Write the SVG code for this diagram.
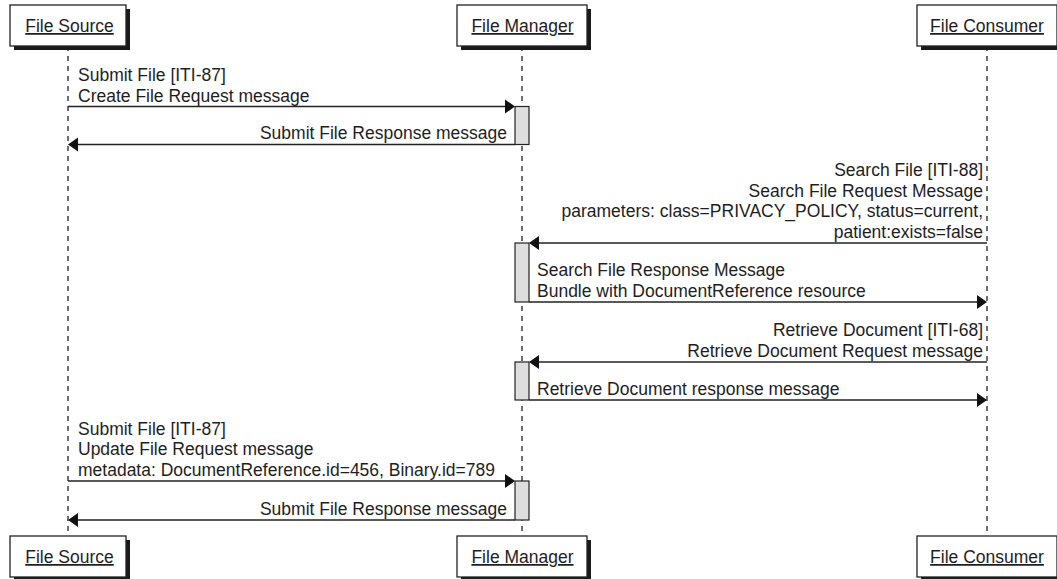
<svg xmlns="http://www.w3.org/2000/svg" width="1057" height="579" viewBox="0 0 1057 579">
<defs>
<style>
text{font-family:"Liberation Sans",Arial,sans-serif;font-size:17.5px;fill:#1e1e1e}
.box{fill:#fff;stroke:#222;stroke-width:1.3}
.sh{fill:#1a1a1a}
.life{stroke:#222;stroke-width:1.3;stroke-dasharray:5,5;fill:none}
.act{fill:#dedede;stroke:#222;stroke-width:1.2}
.msg{stroke:#222;stroke-width:1.3;fill:none}
.ah{fill:#111}
.u{text-decoration:underline}
.e{text-anchor:end}
.m{text-anchor:middle}
</style>
</defs>
<rect width="1057" height="579" fill="#fff"/>
<g id="lifelines">
<line class="life" x1="68" y1="46" x2="68" y2="536"/>
<line class="life" x1="522" y1="46" x2="522" y2="536"/>
<line class="life" x1="987" y1="46" x2="987" y2="536"/>
</g>
<g id="file-source-top">
<rect class="sh" x="14" y="9" width="116" height="41"/>
<rect class="box" x="10" y="5" width="116" height="41"/>
<text class="m u" x="69.5" y="32">File Source</text>
</g>
<g id="file-manager-top">
<rect class="sh" x="461" y="9" width="130" height="41"/>
<rect class="box" x="457" y="5" width="130" height="41"/>
<text class="m u" x="522.5" y="32">File Manager</text>
</g>
<g id="file-consumer-top">
<rect class="sh" x="921" y="9" width="140" height="41"/>
<rect class="box" x="917" y="5" width="140" height="41"/>
<text class="m u" x="987" y="32">File Consumer</text>
</g>
<g id="file-source-bottom">
<rect class="sh" x="14" y="540" width="116" height="41"/>
<rect class="box" x="10" y="536" width="116" height="41"/>
<text class="m u" x="69.5" y="563">File Source</text>
</g>
<g id="file-manager-bottom">
<rect class="sh" x="461" y="540" width="130" height="41"/>
<rect class="box" x="457" y="536" width="130" height="41"/>
<text class="m u" x="522.5" y="563">File Manager</text>
</g>
<g id="file-consumer-bottom">
<rect class="sh" x="921" y="540" width="140" height="41"/>
<rect class="box" x="917" y="536" width="140" height="41"/>
<text class="m u" x="987" y="563">File Consumer</text>
</g>
<g id="activations">
<rect class="act" x="515" y="106.5" width="14" height="38"/>
<rect class="act" x="515" y="243" width="14" height="59"/>
<rect class="act" x="515" y="362" width="14" height="38"/>
<rect class="act" x="515" y="481" width="14" height="39"/>
</g>
<g id="connectors">
<line class="msg" x1="68" y1="106.5" x2="507" y2="106.5"/>
<path class="ah" d="M515,106.5 L505,99.5 L505,113.5 Z"/>
<line class="msg" x1="515" y1="144.5" x2="76" y2="144.5"/>
<path class="ah" d="M68,144.5 L78,137.5 L78,151.5 Z"/>
<line class="msg" x1="987" y1="243" x2="537" y2="243"/>
<path class="ah" d="M529,243 L539,236 L539,250 Z"/>
<line class="msg" x1="529" y1="302" x2="979" y2="302"/>
<path class="ah" d="M987,302 L977,295 L977,309 Z"/>
<line class="msg" x1="987" y1="362" x2="537" y2="362"/>
<path class="ah" d="M529,362 L539,355 L539,369 Z"/>
<line class="msg" x1="529" y1="400" x2="979" y2="400"/>
<path class="ah" d="M987,400 L977,393 L977,407 Z"/>
<line class="msg" x1="68" y1="481" x2="507" y2="481"/>
<path class="ah" d="M515,481 L505,474 L505,488 Z"/>
<line class="msg" x1="515" y1="520" x2="76" y2="520"/>
<path class="ah" d="M68,520 L78,513 L78,527 Z"/>
</g>
<g id="labels">
<text x="78" y="81">Submit File [ITI-87]</text>
<text x="78" y="101.5">Create File Request message</text>
<text class="e" x="507" y="139">Submit File Response message</text>
<text class="e" x="983" y="176">Search File [ITI-88]</text>
<text class="e" x="983" y="196.5">Search File Request Message</text>
<text class="e" x="983" y="217">parameters: class=PRIVACY_POLICY, status=current,</text>
<text class="e" x="983" y="237.5">patient:exists=false</text>
<text x="537" y="276">Search File Response Message</text>
<text x="537" y="296.5">Bundle with DocumentReference resource</text>
<text class="e" x="983" y="336">Retrieve Document [ITI-68]</text>
<text class="e" x="983" y="356.5">Retrieve Document Request message</text>
<text x="537" y="394.5">Retrieve Document response message</text>
<text x="78" y="434.5">Submit File [ITI-87]</text>
<text x="78" y="455">Update File Request message</text>
<text x="78" y="475.5">metadata: DocumentReference.id=456, Binary.id=789</text>
<text class="e" x="507" y="514.5">Submit File Response message</text>
</g>
</svg>
